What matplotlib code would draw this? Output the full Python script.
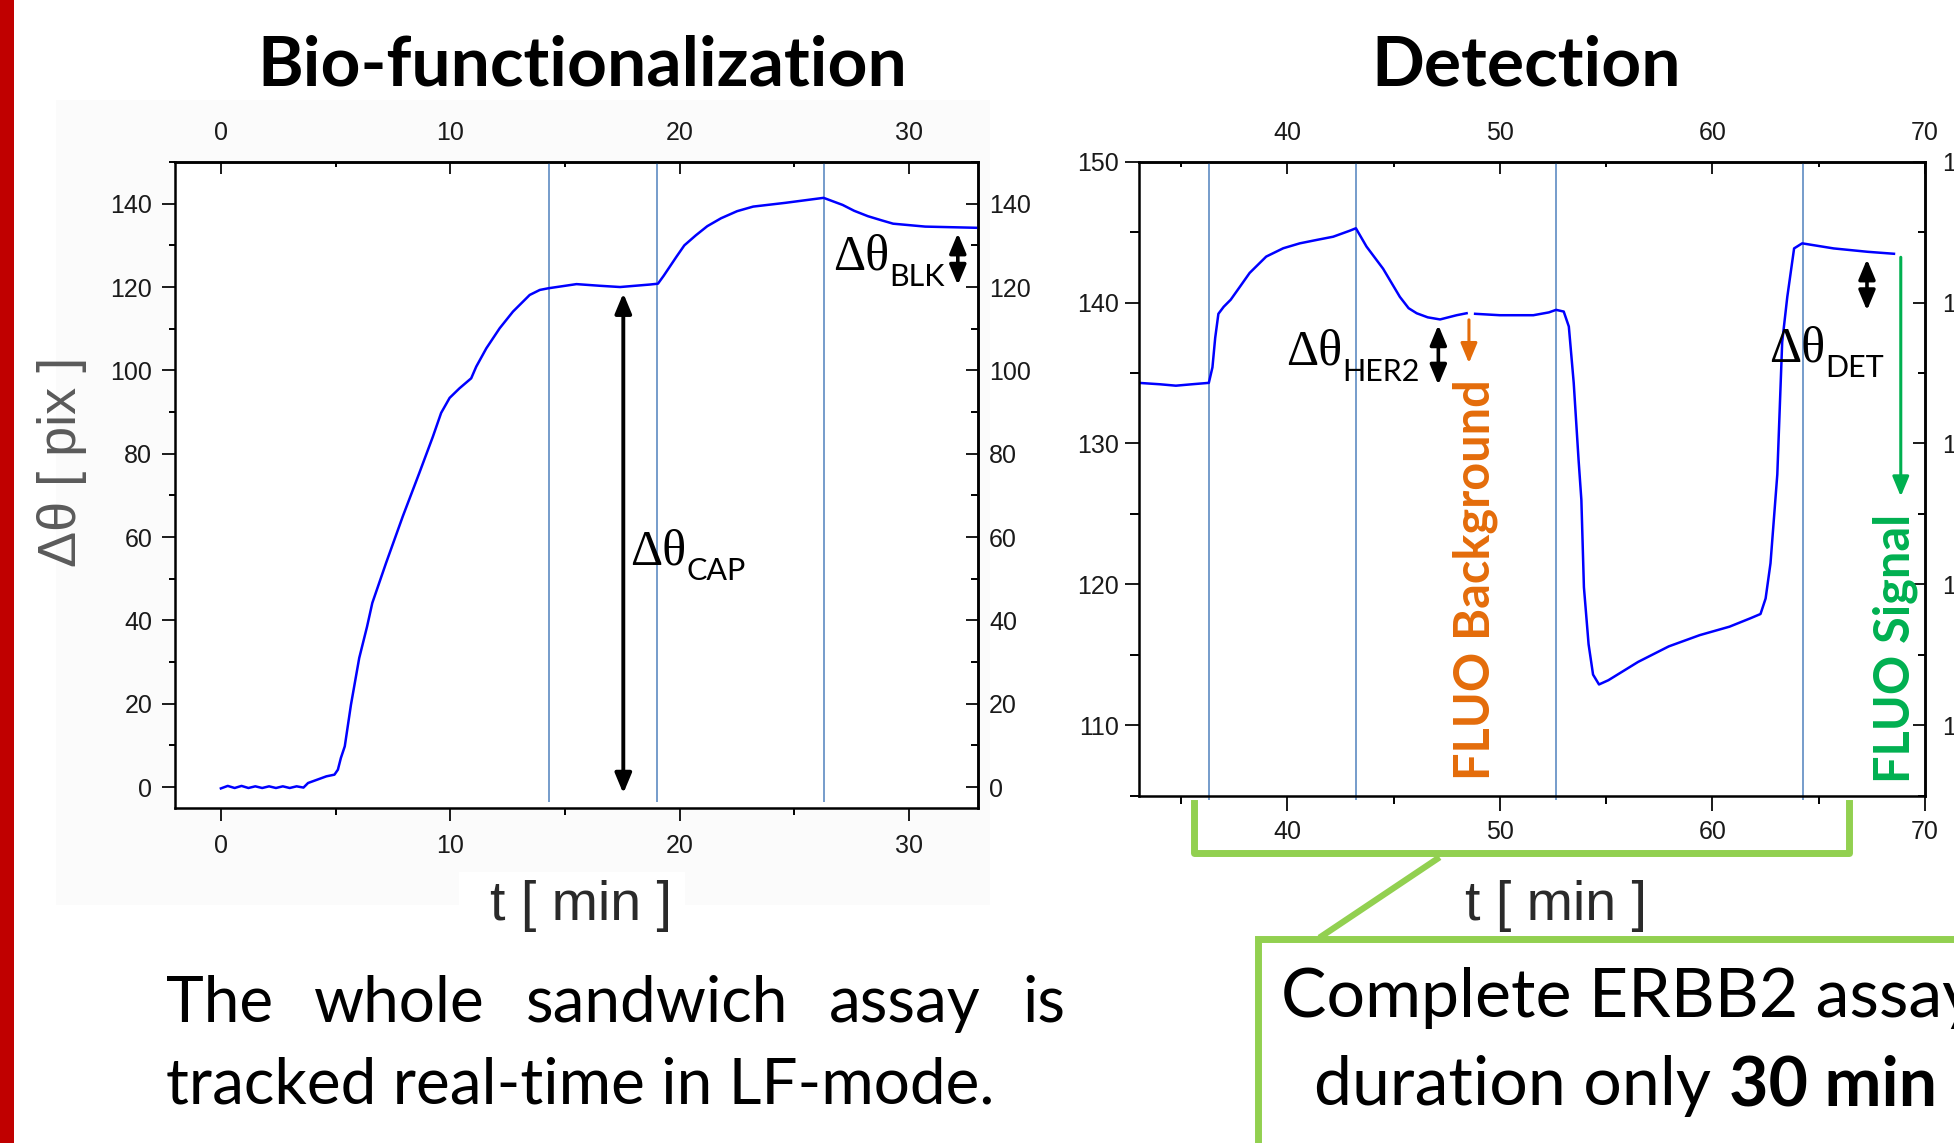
import numpy as np
import matplotlib.pyplot as plt
from matplotlib.patches import Rectangle
from matplotlib.ticker import MultipleLocator

W, H = 1954, 1143

# bio-functionalization run (capture + blocking)
bio_t = [0.0, 0.3, 0.6, 0.9, 1.2, 1.5, 1.8, 2.1, 2.4, 2.7, 3.0, 3.3, 3.6,
         3.8, 4.3, 4.6, 4.95, 5.1, 5.23, 5.4, 5.67, 6.03, 6.37,
         6.6, 7.2, 7.93, 8.65, 9.24, 9.6, 9.97, 10.4, 10.91, 11.13,
         11.57, 12.15, 12.73, 13.46, 13.9, 14.27, 15.5, 16.52, 17.4, 18.7,
         19.05, 19.3, 19.86, 20.2, 20.7, 21.2, 21.8, 22.5, 23.2, 24.6,
         26.27, 27.1, 27.6, 28.2, 28.8, 29.3, 30.7, 33.04]
bio_v = [-0.3, 0.3, -0.2, 0.3, -0.2, 0.2, -0.2, 0.2, -0.2, 0.2, -0.2, 0.2, -0.1,
         1.0, 2.0, 2.6, 3.0, 4.2, 7.0, 9.8, 19.8, 31.0, 38.5,
         44.2, 53.8, 65.0, 75.4, 84.1, 89.8, 93.4, 95.7, 98.1, 100.9,
         105.3, 110.1, 114.1, 118.1, 119.3, 119.7, 120.7, 120.3, 120.0, 120.6,
         120.8, 122.7, 127.3, 130.0, 132.4, 134.6, 136.5, 138.2, 139.3, 140.2,
         141.4, 139.7, 138.3, 137.0, 136.0, 135.2, 134.5, 134.2]
bio_steps = [14.28, 18.99, 26.27]

# detection run (HER2 + detection antibody)
det_t = [33.0, 34.0, 34.75, 35.5, 36.3, 36.47, 36.6, 36.75, 37.0, 37.33,
         37.8, 38.22, 39.0, 39.8, 40.58, 41.37, 42.15, 42.94, 43.22, 43.72,
         44.5, 45.29, 45.7, 46.08, 46.6, 47.18, 47.96, 48.43, 48.6, 48.83,
         50.0, 51.57, 52.3, 52.64, 53.0, 53.24, 53.47, 53.7, 53.83, 53.95,
         54.17, 54.38, 54.66, 55.1, 56.5, 57.94, 59.4, 60.8, 61.79, 62.26,
         62.5, 62.73, 63.05, 63.28, 63.52, 63.84, 64.22, 65.7, 67.3, 68.54]
det_v = [134.3, 134.2, 134.1, 134.2, 134.3, 135.4, 137.5, 139.2, 139.7, 140.2,
         141.2, 142.1, 143.26, 143.85, 144.2, 144.44, 144.67, 145.1, 145.27, 143.97,
         142.4, 140.4, 139.6, 139.24, 138.95, 138.8, 139.1, 139.24, np.nan, 139.2,
         139.1, 139.1, 139.3, 139.48, 139.36, 138.3, 134.3, 128.8, 126.0, 119.8,
         115.75, 113.6, 112.9, 113.2, 114.5, 115.6, 116.4, 117.0, 117.6, 117.9,
         119.0, 121.5, 127.8, 137.2, 140.4, 143.84, 144.2, 143.84, 143.6, 143.46]
det_steps = [36.3, 43.22, 52.64, 64.24]

plt.rcParams['font.family'] = ['Liberation Sans', 'DejaVu Sans']
plt.rcParams['font.size'] = 18
plt.rcParams['axes.linewidth'] = 1.8

CURVE = '#0000ff'
STEP = '#4f81bd'
ORANGE = '#e46c0a'
GREEN = '#00b050'
LIME = '#92d050'
SANS = ['Lato', 'DejaVu Sans']
TICKFONT = 18

fig = plt.figure(figsize=(W / 100, H / 100), dpi=100)

# pixel-space layers under and over the plots
bg = fig.add_axes([0, 0, 1, 1], zorder=-5)
bg.set_xlim(0, W)
bg.set_ylim(H, 0)
bg.axis('off')
bg.add_patch(Rectangle((56, 100), 934, 805, color='#fbfbfb', lw=0))
bg.add_patch(Rectangle((459, 872), 226, 66, color='white', lw=0))
bg.add_patch(Rectangle((0, 0), 14, H, color='#c00000', lw=0))

ov = fig.add_axes([0, 0, 1, 1], zorder=10)
ov.set_xlim(0, W)
ov.set_ylim(H, 0)
ov.axis('off')
ov.patch.set_alpha(0)


def frame(ax, xlim, ylim, xstep, ystep, out_len, in_len, pads):
    ax.set_xlim(*xlim)
    ax.set_ylim(*ylim)
    ax.set_facecolor('white')
    ax.xaxis.set_major_locator(MultipleLocator(xstep))
    ax.xaxis.set_minor_locator(MultipleLocator(xstep / 2))
    ax.yaxis.set_major_locator(MultipleLocator(ystep))
    ax.yaxis.set_minor_locator(MultipleLocator(ystep / 2))
    ax.tick_params(axis='x', which='major', direction='out', length=out_len[0], width=1.4, pad=pads[0])
    ax.tick_params(axis='x', which='minor', direction='out', length=out_len[1], width=1.4)
    ax.tick_params(axis='y', which='major', direction='out', length=out_len[2], width=1.4, pad=pads[1])
    ax.tick_params(axis='y', which='minor', direction='out', length=out_len[3], width=1.4)
    ax.tick_params(colors='#1a1a1a', labelsize=TICKFONT)
    top = ax.secondary_xaxis('top')
    top.xaxis.set_major_locator(MultipleLocator(xstep))
    top.xaxis.set_minor_locator(MultipleLocator(xstep / 2))
    top.tick_params(which='major', direction='in', length=in_len[0], width=1.4, pad=pads[2],
                    labelsize=TICKFONT, colors='#1a1a1a')
    top.tick_params(which='minor', direction='in', length=in_len[1], width=1.4)
    right = ax.secondary_yaxis('right')
    right.yaxis.set_major_locator(MultipleLocator(ystep))
    right.yaxis.set_minor_locator(MultipleLocator(ystep / 2))
    right.tick_params(which='major', direction='in', length=in_len[0], width=1.4, pad=pads[3],
                      labelsize=TICKFONT, colors='#1a1a1a')
    right.tick_params(which='minor', direction='in', length=in_len[2], width=1.4)


def dtheta(ax, x, y, sub):
    t = ax.text(x, y, 'Δθ', family='Liberation Serif', fontsize=36, ha='left', va='baseline')
    ax.annotate(sub, xy=(1, 0), xycoords=t, xytext=(0, -7), textcoords='offset points',
                family=SANS, fontsize=22, ha='left', va='bottom')


def arrow(ax, x, y0, y1, color='black', style='<|-|>', lw=2.6):
    ax.annotate('', xy=(x, y1), xytext=(x, y0),
                arrowprops=dict(arrowstyle=style + ',head_length=0.6,head_width=0.25',
                                mutation_scale=20, lw=lw, color=color, shrinkA=0, shrinkB=0))


# left: bio-functionalization
ax1 = fig.add_axes([175 / W, 1 - 808 / H, 803 / W, 646 / H])
frame(ax1, (-2, 33), (-5, 150), 10, 20, (9.4, 5, 9.4, 4.6), (8.3, 3.3, 5), (9, 7, 12, 8))
ax1.vlines(bio_steps, -3.5, 150, color=STEP, lw=1.1)
ax1.plot(bio_t, bio_v, color=CURVE, lw=1.8)
arrow(ax1, 17.54, -1.5, 118.5, lw=2.8)
arrow(ax1, 32.12, 120.5, 132.9)
dtheta(ax1, 17.85, 53.4, 'CAP')
dtheta(ax1, 26.69, 124.1, 'BLK')

# right: detection
ax2 = fig.add_axes([1138.7 / W, 1 - 795.8 / H, 786.3 / W, 634.2 / H])
frame(ax2, (33, 70), (105, 150), 10, 10, (10.8, 5.8, 10, 6.5), (8.3, 3.3, 5), (6.5, 4.3, 12, 12))
ax2.vlines(det_steps, 104.7, 150, color=STEP, lw=1.1, clip_on=False)
ax2.plot(det_t, det_v, color=CURVE, lw=1.8)
arrow(ax2, 47.1, 134.16, 138.4)
arrow(ax2, 67.27, 139.44, 143.07)
arrow(ax2, 48.54, 138.77, 135.7, color=ORANGE, style='-|>', lw=2.2)
arrow(ax2, 68.86, 143.21, 126.24, color=GREEN, style='-|>', lw=2.2)
dtheta(ax2, 39.95, 135.57, 'HER2')
dtheta(ax2, 62.65, 135.82, 'DET')
ax2.text(49.49, 120.33, 'FLUO Background', color=ORANGE, family=SANS, fontweight='bold',
         fontsize=35, rotation=90, rotation_mode='anchor', ha='center', va='baseline')
ax2.text(69.25, 115.47, 'FLUO Signal', color=GREEN, family=SANS, fontweight='bold',
         fontsize=35, rotation=90, rotation_mode='anchor', ha='center', va='baseline')

# titles and axis labels
fig.text(582 / W, 1 - 85 / H, 'Bio-functionalization', family=SANS, fontweight='bold',
         fontsize=50, ha='center', va='baseline')
fig.text(1526 / W, 1 - 85 / H, 'Detection', family=SANS, fontweight='bold',
         fontsize=50, ha='center', va='baseline')
fig.text(581 / W, 1 - 906 / H, 't [ min ]', fontsize=40, color='#2a2a2a', ha='center', va='center')
fig.text(1556 / W, 1 - 906 / H, 't [ min ]', fontsize=40, color='#2a2a2a', ha='center', va='center')
fig.text(62 / W, 1 - 462 / H, 'Δθ [ pix ]', fontsize=39, color='#5a5a5a', rotation=90,
         ha='center', va='center')

# time-span bracket and call-out box
ov.plot([1193.6, 1193.6, 1848.5, 1848.5], [803, 853, 853, 803], color=LIME, lw=5,
        solid_joinstyle='round')
ov.plot([1437, 1322], [859, 936], color=LIME, lw=4.5)
ov.plot([1257.7, 1257.7, 1965], [1150, 939.3, 939.3], color=LIME, lw=5, solid_joinstyle='miter')

ov.text(1280.8, 1017, 'Complete ERBB2 assay', family=SANS, fontsize=49, ha='left', va='baseline')
t2 = ov.text(1314, 1105, 'duration only', family=SANS, fontsize=49, ha='left', va='baseline')
ov.annotate('30 min', xy=(1, 0), xycoords=t2, xytext=(13, 0), textcoords='offset points',
            family=SANS, fontsize=49, fontweight='bold', ha='left', va='bottom')

# justified paragraph
r = fig.canvas.get_renderer()
words = 'The whole sandwich assay is'.split()
objs = [ov.text(0, 1022, w, family=SANS, fontsize=46, ha='left', va='baseline') for w in words]
widths = [o.get_window_extent(r).width for o in objs]
gap = (1065 - 166 - sum(widths)) / (len(words) - 1)
x = 166
for o, w in zip(objs, widths):
    o.set_x(x)
    x += w + gap
ov.text(166, 1104, 'tracked real-time in LF-mode.', family=SANS, fontsize=46, ha='left', va='baseline')

fig.savefig('out.png', dpi=100)
